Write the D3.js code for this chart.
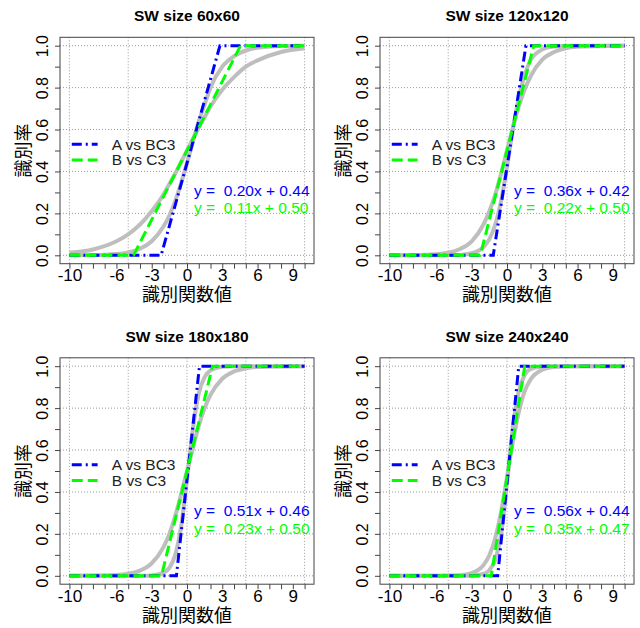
<!DOCTYPE html>
<meta charset="utf-8">
<style>
body { margin: 0; background: #fff; }
text { font-family: "Liberation Sans", Arial, sans-serif; }
.cjk { font-family: "Liberation Sans", "Noto Sans CJK JP", sans-serif; }
.axis path { display: none; }
</style>
<svg width="640" height="628"></svg>
<script src="https://cdn.jsdelivr.net/npm/d3@7"></script>
<script>

var gx = [-10, -8, -6, -5, -4, -3, -2, -1.5, -1, -0.5, 0, 0.5, 1, 1.5, 2, 3, 4, 5, 6, 8, 10];

// grey curves (steep / shallow) per window size
var grey60a  = [0, 0.001, 0.006, 0.014, 0.031, 0.067, 0.137, 0.19, 0.26, 0.345, 0.44, 0.54, 0.64, 0.72, 0.80, 0.90, 0.95, 0.977, 0.99, 0.998, 1];
var grey60b  = [0.012, 0.028, 0.067, 0.10, 0.147, 0.21, 0.29, 0.34, 0.39, 0.445, 0.50, 0.555, 0.61, 0.66, 0.71, 0.79, 0.85, 0.90, 0.93, 0.97, 0.988];
var grey120a = [0, 0, 0, 0.001, 0.002, 0.01, 0.039, 0.077, 0.147, 0.26, 0.42, 0.60, 0.75, 0.86, 0.93, 0.982, 0.996, 0.999, 1, 1, 1];
var grey120b = [0, 0.001, 0.005, 0.012, 0.03, 0.067, 0.147, 0.21, 0.29, 0.39, 0.50, 0.61, 0.71, 0.79, 0.853, 0.933, 0.97, 0.988, 0.995, 0.999, 1];
var grey180a = [0, 0, 0, 0, 0, 0.002, 0.014, 0.038, 0.10, 0.235, 0.46, 0.70, 0.87, 0.948, 0.98, 0.997, 1, 1, 1, 1, 1];
var grey180b = [0, 0.001, 0.004, 0.01, 0.025, 0.06, 0.137, 0.20, 0.285, 0.39, 0.50, 0.61, 0.715, 0.80, 0.863, 0.94, 0.975, 0.99, 0.996, 0.999, 1];
var grey240a = [0, 0, 0, 0, 0, 0.001, 0.009, 0.027, 0.077, 0.20, 0.44, 0.71, 0.88, 0.958, 0.986, 0.998, 1, 1, 1, 1, 1];
var grey240b = [0, 0, 0, 0.001, 0.003, 0.013, 0.051, 0.098, 0.18, 0.306, 0.47, 0.64, 0.78, 0.88, 0.936, 0.983, 0.996, 0.999, 1, 1, 1];

// clipped linear fits, as [x, y] corners
var blue60  = [[-10, 0], [-2.2, 0], [2.8, 1], [10, 1]];
var green60 = [[-10, 0], [-4.55, 0], [4.55, 1], [10, 1]];
var blue120  = [[-10, 0], [-1.17, 0], [1.61, 1], [10, 1]];
var green120 = [[-10, 0], [-2.27, 0], [2.27, 1], [10, 1]];
var blue180  = [[-10, 0], [-0.9, 0], [1.06, 1], [10, 1]];
var green180 = [[-10, 0], [-2.17, 0], [2.17, 1], [10, 1]];
var blue240  = [[-10, 0], [-0.79, 0], [1.0, 1], [10, 1]];
var green240 = [[-10, 0], [-1.34, 0], [1.51, 1], [10, 1]];

var titles = ["SW size 60x60", "SW size 120x120", "SW size 180x180", "SW size 240x240"];
var fitA = ["y =  0.20x + 0.44", "y =  0.36x + 0.42", "y =  0.51x + 0.46", "y =  0.56x + 0.44"];
var fitB = ["y =  0.11x + 0.50", "y =  0.22x + 0.50", "y =  0.23x + 0.50", "y =  0.35x + 0.47"];
var legendLabels = ["A vs BC3", "B vs C3"];

var xTicks = [-10, -9, -8, -7, -6, -5, -4, -3, -2, -1, 0, 1, 2, 3, 4, 5, 6, 7, 8, 9, 10];
var xLabels = [-10, -6, -3, 0, 3, 6, 9];
var yTicks = [0, 0.1, 0.2, 0.3, 0.4, 0.5, 0.6, 0.7, 0.8, 0.9, 1];
var yLabels = [0, 0.2, 0.4, 0.6, 0.8, 1];
var xGrid = [-10, -5, 0, 5, 10];
var yGrid = [0, 0.2, 0.4, 0.6, 0.8, 1];

var panels = [
  {title: titles[0], greys: [grey60a, grey60b], blue: blue60, green: green60, fa: fitA[0], fb: fitB[0]},
  {title: titles[1], greys: [grey120a, grey120b], blue: blue120, green: green120, fa: fitA[1], fb: fitB[1]},
  {title: titles[2], greys: [grey180a, grey180b], blue: blue180, green: green180, fa: fitA[2], fb: fitB[2]},
  {title: titles[3], greys: [grey240a, grey240b], blue: blue240, green: green240, fa: fitA[3], fb: fitB[3]}
];

var svg = d3.select("svg");
var box = {left: 60, right: 314, top: 37.3, bottom: 263.7};

var x = d3.scaleLinear().domain([-10.8, 10.8]).range([box.left, box.right]);
var y = d3.scaleLinear().domain([-0.04, 1.04]).range([box.bottom, box.top]);

var curve = d3.line()
    .x(function(d) { return x(d[0]); })
    .y(function(d) { return y(d[1]); })
    .curve(d3.curveMonotoneX);
var straight = d3.line()
    .x(function(d) { return x(d[0]); })
    .y(function(d) { return y(d[1]); });

var BLUE = "#0000ff", GREEN = "#00ff00";

panels.forEach(function(p, i) {
  var g = svg.append("g")
      .attr("transform", "translate(" + (i % 2) * 320 + "," + Math.floor(i / 2) * 320.5 + ")");

  // grid
  g.selectAll(".gx").data(xGrid).enter().append("line")
      .attr("x1", function(d) { return x(d); }).attr("x2", function(d) { return x(d); })
      .attr("y1", box.top).attr("y2", box.bottom)
      .attr("stroke", "#999").attr("stroke-dasharray", "1,2");
  g.selectAll(".gy").data(yGrid).enter().append("line")
      .attr("x1", box.left).attr("x2", box.right)
      .attr("y1", function(d) { return y(d); }).attr("y2", function(d) { return y(d); })
      .attr("stroke", "#999").attr("stroke-dasharray", "1,2");

  // grey curves
  p.greys.forEach(function(vals) {
    g.append("path")
        .datum(gx.map(function(v, k) { return [v, vals[k]]; }))
        .attr("fill", "none")
        .attr("stroke", "#bebebe")
        .attr("stroke-width", 4)
        .attr("d", curve);
  });

  g.append("path")
      .datum(p.blue)
      .attr("fill", "none")
      .attr("stroke", BLUE)
      .attr("stroke-width", 3)
      .attr("stroke-dasharray", "10,4,2,4")
      .attr("d", straight);

  g.append("path")
      .datum(p.green)
      .attr("fill", "none")
      .attr("stroke", GREEN)
      .attr("stroke-width", 3)
      .attr("stroke-dasharray", "11,5")
      .attr("d", straight);

  // box
  g.append("rect")
      .attr("x", box.left).attr("y", box.top)
      .attr("width", box.right - box.left).attr("height", box.bottom - box.top)
      .attr("fill", "none").attr("stroke", "#444").attr("stroke-width", 1);

  // axes
  var xa = g.append("g")
      .attr("class", "axis")
      .attr("transform", "translate(0," + box.bottom + ")")
      .call(d3.axisBottom(x).tickValues(xTicks).tickSize(5)
        .tickFormat(function(d) { return xLabels.indexOf(d) >= 0 ? d : ""; }));
  xa.selectAll("text").filter(function() { return this.textContent === ""; }).remove();
  xa.selectAll("text").attr("y", 17.5).attr("dy", null)
      .attr("font-size", 17).attr("font-family", "Liberation Sans, Arial, sans-serif").attr("fill", "#000");
  xa.selectAll("line").attr("stroke", "#444");

  var ya = g.append("g")
      .attr("class", "axis")
      .attr("transform", "translate(" + box.left + ",0)")
      .call(d3.axisLeft(y).tickValues(yTicks).tickSize(5)
        .tickFormat(function(d) { return yLabels.indexOf(d) >= 0 ? d3.format(".1f")(d) : ""; }));
  ya.selectAll("text").filter(function() { return this.textContent === ""; }).remove();
  ya.selectAll("text")
      .attr("transform", "rotate(-90)")
      .attr("x", 0).attr("y", -12).attr("dy", null)
      .attr("text-anchor", "middle")
      .attr("font-size", 16).attr("font-family", "Liberation Sans, Arial, sans-serif").attr("fill", "#000");
  ya.selectAll("line").attr("stroke", "#444");

  // titles and labels
  g.append("text")
      .attr("x", (box.left + box.right) / 2).attr("y", 21)
      .attr("text-anchor", "middle")
      .attr("font-weight", "bold").attr("font-size", 15.5)
      .text(p.title);

  g.append("text")
      .attr("class", "cjk")
      .attr("x", (box.left + box.right) / 2).attr("y", 301)
      .attr("text-anchor", "middle")
      .attr("font-size", 18)
      .text("識別関数値");

  g.append("text")
      .attr("class", "cjk")
      .attr("transform", "translate(30," + (box.top + box.bottom) / 2 + ") rotate(-90)")
      .attr("text-anchor", "middle")
      .attr("font-size", 18)
      .text("識別率");

  // legend
  var leg = [{c: BLUE, dash: "10,4,2,4", yv: 0.53}, {c: GREEN, dash: "11,5", yv: 0.455}];
  leg.forEach(function(l, k) {
    g.append("line")
        .attr("x1", x(-9.8)).attr("x2", x(-7.6))
        .attr("y1", y(l.yv)).attr("y2", y(l.yv))
        .attr("stroke", l.c).attr("stroke-width", 3)
        .attr("stroke-dasharray", l.dash);
    g.append("text")
        .attr("x", x(-6.4)).attr("y", y(l.yv))
        .attr("dy", "0.35em")
        .attr("font-size", 15.5).attr("fill", "#222")
        .text(legendLabels[k]);
  });

  g.append("text")
      .attr("x", x(0.6)).attr("y", y(0.285))
      .attr("font-size", 15.5).attr("fill", BLUE)
      .style("white-space", "pre")
      .text(p.fa);
  g.append("text")
      .attr("x", x(0.6)).attr("y", y(0.2))
      .attr("font-size", 15.5).attr("fill", GREEN)
      .style("white-space", "pre")
      .text(p.fb);
});

</script>
